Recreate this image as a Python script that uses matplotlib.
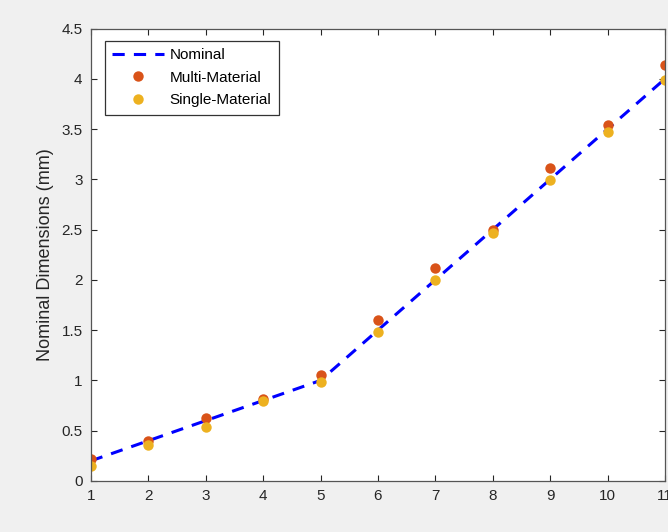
import numpy as np
import matplotlib
matplotlib.use("Agg")
from matplotlib import pyplot as plt

# data
x = [1, 2, 3, 4, 5, 6, 7, 8, 9, 10, 11]
nominal = [0.2, 0.4, 0.6, 0.8, 1.0, 1.5, 2.0, 2.5, 3.0, 3.5, 4.0]
multi = [0.22, 0.40, 0.63, 0.82, 1.05, 1.60, 2.12, 2.50, 3.11, 3.54, 4.14]
single = [0.15, 0.36, 0.54, 0.80, 0.98, 1.48, 2.00, 2.47, 2.99, 3.47, 3.99]

plt.rcParams['font.family'] = ['Liberation Sans', 'DejaVu Sans']
axcol = '#262626'

fig = plt.figure(figsize=(6.68, 5.32), dpi=100, facecolor='#f0f0f0')
ax = fig.add_axes([0.136, 0.0959, 0.8595, 0.8505])

ax.plot(x, nominal, 'b--', lw=2.2, dashes=(4, 3), label='Nominal')
ax.plot(x, multi, 'o', color='#D95319', ms=7.5, mec='none', label='Multi-Material')
ax.plot(x, single, 'o', color='#EDB120', ms=7.5, mec='none', label='Single-Material')

ax.set_xlim(1, 11)
ax.set_ylim(0, 4.5)
ax.set_xticks(range(1, 12))
ax.set_yticks(np.arange(0, 4.51, 0.5))
ax.set_yticklabels(['0', '0.5', '1', '1.5', '2', '2.5', '3', '3.5', '4', '4.5'])
ax.tick_params(direction='in', top=True, right=True, length=4, width=0.8,
               colors=axcol, labelsize=11, pad=6)
for s in ax.spines.values():
    s.set_color('#555555')
    s.set_linewidth(0.9)

ax.set_ylabel('Nominal Dimensions (mm)', fontsize=13, color=axcol, labelpad=5)

leg = ax.legend(loc='upper left', bbox_to_anchor=(0.024, 0.973), fontsize=11,
                fancybox=False, framealpha=1, edgecolor='#333333',
                handlelength=3.4, labelspacing=0.55, borderpad=0.5,
                handletextpad=0.35, borderaxespad=0)
leg.get_frame().set_linewidth(0.9)

fig.savefig('out.png', dpi=100, facecolor=fig.get_facecolor())
